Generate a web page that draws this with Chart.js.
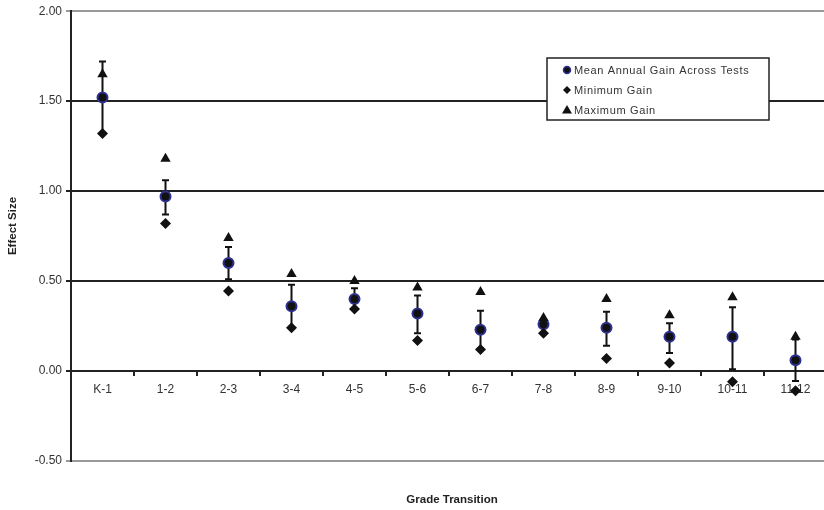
<!DOCTYPE html>
<html>
<head>
<meta charset="utf-8">
<script src="https://cdn.jsdelivr.net/npm/chart.js@4.4.0/dist/chart.umd.min.js"></script>
<style>
  html, body { margin: 0; padding: 0; background: #fff; overflow: hidden; }
  #wrap { width: 834px; height: 510px; }
</style>
</head>
<body>
<div id="wrap"><canvas id="gainChart"></canvas></div>
<script>
// Dados
const grades = ['K-1', '1-2', '2-3', '3-4', '4-5', '5-6', '6-7', '7-8', '8-9', '9-10', '10-11', '11-12'];
const meanGain = [1.52, 0.97, 0.60, 0.36, 0.40, 0.32, 0.23, 0.26, 0.24, 0.19, 0.19, 0.06];
const minGain = [1.32, 0.82, 0.445, 0.24, 0.345, 0.17, 0.12, 0.21, 0.07, 0.045, -0.06, -0.11];
const maxGain = [1.65, 1.18, 0.74, 0.54, 0.50, 0.465, 0.44, 0.295, 0.40, 0.31, 0.41, 0.19];
const errTop = [1.72, 1.06, 0.69, 0.48, 0.46, 0.42, 0.335, 0.28, 0.33, 0.265, 0.355, 0.175];
const errBottom = [1.32, 0.87, 0.51, 0.24, 0.34, 0.21, 0.125, 0.24, 0.14, 0.10, 0.01, -0.055];
const yTicks = [-0.5, 0, 0.5, 1.0, 1.5, 2.0];

const FONT = 'Liberation Sans, Arial, sans-serif';

// Barras de erro desenhadas com as escalas do Chart.js
const errorBars = {
  id: 'errorBars',
  beforeDatasetsDraw(chart) {
    const ctx = chart.ctx;
    const xs = chart.scales.x, ys = chart.scales.y;
    ctx.save();
    ctx.strokeStyle = '#111';
    ctx.lineWidth = 2;
    grades.forEach((g, i) => {
      const x = xs.getPixelForValue(i);
      const t = ys.getPixelForValue(errTop[i]);
      const b = ys.getPixelForValue(errBottom[i]);
      ctx.beginPath();
      ctx.moveTo(x, t); ctx.lineTo(x, b);
      ctx.moveTo(x - 3.5, t); ctx.lineTo(x + 3.5, t);
      ctx.moveTo(x - 3.5, b); ctx.lineTo(x + 3.5, b);
      ctx.stroke();
    });
    ctx.restore();
  }
};

// Legenda em caixa + títulos dos eixos
const boxLegend = {
  id: 'boxLegend',
  afterDraw(chart) {
    const ctx = chart.ctx;
    const area = chart.chartArea;
    ctx.save();
    ctx.fillStyle = '#fff';
    ctx.strokeStyle = '#222';
    ctx.lineWidth = 1.5;
    ctx.fillRect(547, 58, 222, 62);
    ctx.strokeRect(547, 58, 222, 62);

    chart.data.datasets.forEach((ds, i) => {
      const y = 70 + i * 20;
      const mx = 567;
      ctx.fillStyle = '#111';
      ctx.beginPath();
      if (ds.pointStyle === 'circle') {
        ctx.arc(mx, y, 3.5, 0, Math.PI * 2);
        ctx.fill();
        ctx.strokeStyle = ds.borderColor;
        ctx.lineWidth = 1.5;
        ctx.stroke();
      } else if (ds.pointStyle === 'rectRot') {
        ctx.moveTo(mx, y - 4); ctx.lineTo(mx + 4, y); ctx.lineTo(mx, y + 4); ctx.lineTo(mx - 4, y);
        ctx.closePath(); ctx.fill();
      } else {
        ctx.moveTo(mx, y - 5); ctx.lineTo(mx + 5, y + 3.5); ctx.lineTo(mx - 5, y + 3.5);
        ctx.closePath(); ctx.fill();
      }
      ctx.fillStyle = '#333';
      ctx.font = '11px ' + FONT;
      ctx.letterSpacing = '0.65px';
      ctx.textBaseline = 'middle';
      ctx.textAlign = 'left';
      ctx.fillText(ds.label, 574, y + 1);
    });

    ctx.letterSpacing = '0px';
    ctx.fillStyle = '#222';
    ctx.font = 'bold 11.5px ' + FONT;
    ctx.textAlign = 'center';
    ctx.textBaseline = 'middle';
    ctx.fillText('Grade Transition', (area.left + area.right) / 2 + 3, 500);

    ctx.translate(13, 226);
    ctx.rotate(-Math.PI / 2);
    ctx.fillText('Effect Size', 0, 0);
    ctx.restore();
  }
};

const ctx = document.getElementById('gainChart').getContext('2d');
const gainChart = new Chart(ctx, {
  type: 'line',
  data: {
    labels: grades,
    datasets: [{
      label: 'Mean Annual Gain Across Tests',
      data: meanGain,
      showLine: false,
      pointStyle: 'circle',
      pointRadius: 5,
      pointBackgroundColor: '#111',
      borderColor: '#2e3192',
      pointBorderColor: '#2e3192',
      pointBorderWidth: 2,
      order: 3
    }, {
      label: 'Minimum Gain',
      data: minGain,
      showLine: false,
      pointStyle: 'rectRot',
      pointRadius: 5.5,
      pointBackgroundColor: '#111',
      pointBorderColor: '#111',
      pointBorderWidth: 0,
      order: 2
    }, {
      label: 'Maximum Gain',
      data: maxGain,
      showLine: false,
      pointStyle: 'triangle',
      pointRadius: 6,
      pointBackgroundColor: '#111',
      pointBorderColor: '#111',
      pointBorderWidth: 0,
      order: 1
    }]
  },
  options: {
    responsive: true,
    maintainAspectRatio: false,
    animation: false,
    layout: { padding: { top: 11, right: 0, left: 0, bottom: 49 } },
    plugins: {
      legend: { display: false },
      tooltip: { enabled: false }
    },
    scales: {
      x: {
        type: 'category',
        position: { y: 0 },
        offset: true,
        grid: {
          offset: true,
          drawOnChartArea: false,
          drawTicks: true,
          tickLength: 4,
          color: '#222',
          lineWidth: 2
        },
        border: { color: '#222', width: 2 },
        ticks: {
          color: '#333',
          font: { size: 12, family: FONT },
          padding: 7,
          maxRotation: 0,
          autoSkip: false
        }
      },
      y: {
        min: -0.5,
        max: 2,
        afterBuildTicks: s => { s.ticks = yTicks.map(v => ({ value: v })); },
        ticks: {
          color: '#333',
          font: { size: 12, family: FONT },
          padding: 4,
          callback: v => v.toFixed(2)
        },
        grid: {
          color: c => (c.tick && (c.tick.value === 2 || c.tick.value === -0.5)) ? '#999' : '#222',
          lineWidth: 2,
          tickLength: 5
        },
        border: { color: '#222', width: 2 },
        afterFit: s => { s.width = 71; }
      }
    }
  },
  plugins: [errorBars, boxLegend]
});
</script>
</body>
</html>
